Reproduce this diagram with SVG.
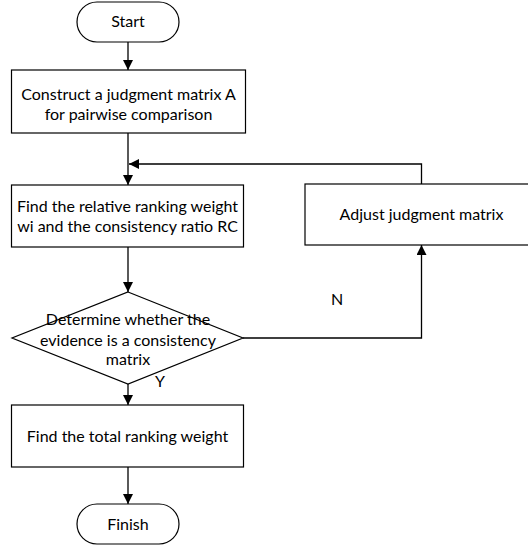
<svg xmlns="http://www.w3.org/2000/svg" width="528" height="546" viewBox="0 0 528 546">
<defs>
<style>
.n{fill:#fff;stroke:#000;stroke-width:1.2}
.t{font-family:Lato,"Liberation Sans",sans-serif;font-size:16px;fill:#000;text-anchor:middle}
.c{fill:none;stroke:#000;stroke-width:1.3}
</style>
<marker id="ah" markerUnits="userSpaceOnUse" markerWidth="10" markerHeight="10" viewBox="0 0 10 10" refX="10" refY="5" orient="auto">
<path d="M0,0 L10,5 L0,10 Z" fill="#000"/>
</marker>
</defs>
<rect width="528" height="546" fill="#fff"/>
<g id="connectors">
<line class="c" x1="128" y1="42" x2="128" y2="70" marker-end="url(#ah)"/>
<line class="c" x1="128" y1="133" x2="128" y2="185" marker-end="url(#ah)"/>
<line class="c" x1="128" y1="247" x2="128" y2="292" marker-end="url(#ah)"/>
<line class="c" x1="128" y1="384" x2="128" y2="405" marker-end="url(#ah)"/>
<line class="c" x1="128" y1="467" x2="128" y2="504" marker-end="url(#ah)"/>
<polyline class="c" points="421.5,184 421.5,164 129,164" marker-end="url(#ah)"/>
<polyline class="c" points="243,338 421.5,338 421.5,245" marker-end="url(#ah)"/>
<text class="t" x="337" y="305">N</text>
<text class="t" x="160" y="387">Y</text>
</g>
<g id="start">
<rect class="n" x="77" y="2" width="102" height="40" rx="20"/>
<text class="t" x="128" y="27">Start</text>
</g>
<g id="construct">
<rect class="n" x="11.5" y="70" width="234" height="63"/>
<text class="t" x="128.5" y="100">Construct a judgment matrix A</text>
<text class="t" x="128.5" y="119.5">for pairwise comparison</text>
</g>
<g id="find-relative">
<rect class="n" x="11.5" y="185" width="232" height="62"/>
<text class="t" x="127.5" y="212">Find the relative ranking weight</text>
<text class="t" x="127.5" y="232">wi and the consistency ratio RC</text>
</g>
<g id="adjust">
<rect class="n" x="305" y="184" width="234" height="61"/>
<text class="t" x="421.5" y="220">Adjust judgment matrix</text>
</g>
<g id="decision">
<polygon class="n" points="128,292 243,338 128,384 12,338"/>
<text class="t" x="128" y="325">Determine whether the</text>
<text class="t" x="128" y="346">evidence is a consistency</text>
<text class="t" x="128" y="365">matrix</text>
</g>
<g id="find-total">
<rect class="n" x="11.5" y="405" width="232" height="62"/>
<text class="t" x="127.5" y="442">Find the total ranking weight</text>
</g>
<g id="finish">
<rect class="n" x="77" y="504" width="102" height="40" rx="20"/>
<text class="t" x="128" y="530">Finish</text>
</g>
</svg>
